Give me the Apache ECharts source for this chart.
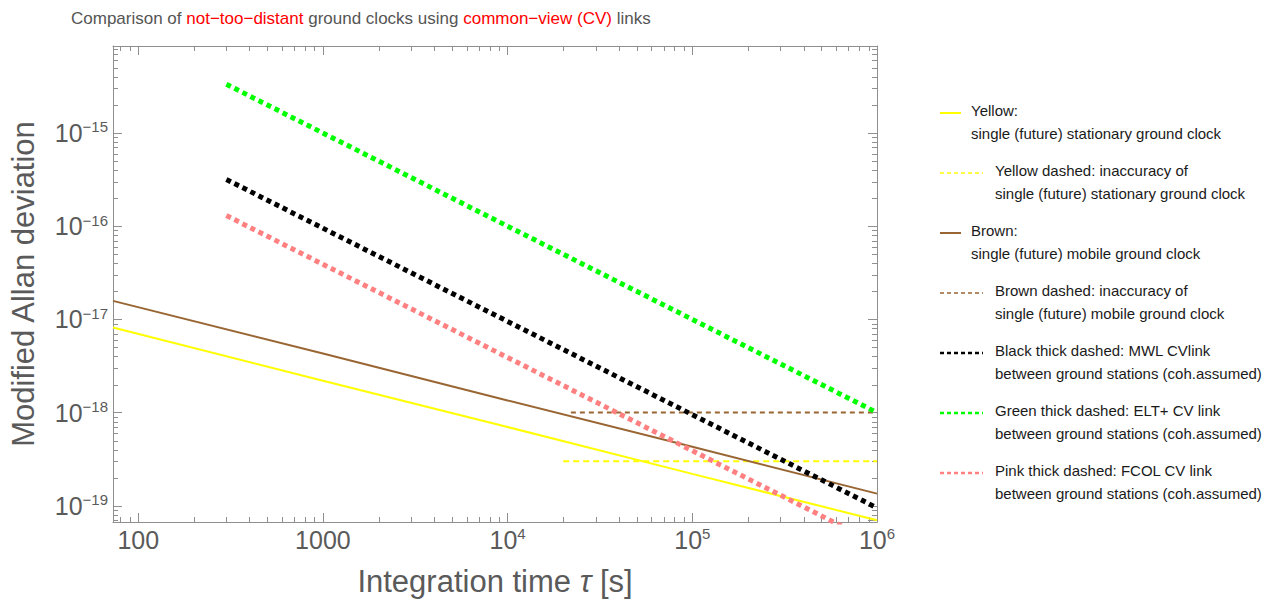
<!DOCTYPE html>
<html><head><meta charset="utf-8">
<script src="https://cdn.jsdelivr.net/npm/echarts@6/dist/echarts.min.js"></script>
<style>html,body{margin:0;padding:0;background:#fff}#c{width:1271px;height:603px}</style>
</head><body><div id="c"></div>
<script>
// ---- data (tau in s, modified Allan deviation) ----
const yellowTau = [73, 1000, 10000, 100000, 1000000];
const yellowSigma = [8.2e-18, 2.2e-18, 7.0e-19, 2.2e-19, 7.0e-20];
const yellowDashedTau = [20000, 1000000];
const yellowDashedSigma = [3e-19, 3e-19];
const brownTau = [73, 1000, 10000, 100000, 1000000];
const brownSigma = [1.58e-17, 4.3e-18, 1.35e-18, 4.3e-19, 1.35e-19];
const brownDashedTau = [22000, 1000000];
const brownDashedSigma = [1e-18, 1e-18];
const blackTau = [300, 1000000];
const blackSigma = [3.17e-16, 9.5e-20];
const greenTau = [300, 1000000];
const greenSigma = [3.33e-15, 1e-18];
const pinkTau = [300, 1000000];
const pinkSigma = [1.3e-16, 3.9e-20];

const xRange = [73, 1000000];
const yRange = [6.7e-20, 8.57e-15];
const minorMultipliers = [2, 3, 4, 5, 6, 7, 8, 9];
const xDecades = [10, 100, 1000, 10000, 100000];
const yDecades = [1e-20, 1e-19, 1e-18, 1e-17, 1e-16, 1e-15];

const titleParts = [
  ['g', 'Comparison of '], ['r', 'not\u2212too\u2212distant'], ['g', ' ground clocks using '],
  ['r', 'common\u2212view (CV)'], ['g', ' links']
];
const xAxisTitle = 'Integration time {i|\u03c4} [s]';
const yAxisTitle = 'Modified Allan deviation';
const legendLabels = [
  ['Yellow:', 'single (future) stationary ground clock'],
  ['Yellow dashed: inaccuracy of', 'single (future) stationary ground clock'],
  ['Brown:', 'single (future) mobile ground clock'],
  ['Brown dashed: inaccuracy of', 'single (future) mobile ground clock'],
  ['Black thick dashed: MWL CVlink', 'between ground stations (coh.assumed)'],
  ['Green thick dashed: ELT+ CV link', 'between ground stations (coh.assumed)'],
  ['Pink thick dashed: FCOL CV link', 'between ground stations (coh.assumed)']
];

// ---- styles ----
const FRAME = '#8f8f8f';
const LABEL = '#5a5a5a';
const YELLOW = '#ffff00', BROWN = '#996633', BLACK = '#000000', GREEN = '#00ff00', PINK = '#ff8080';
const FONT = '"Liberation Sans", Arial, sans-serif';

const zip = (a, b) => a.map((v, i) => [v, b[i]]);
const minorVals = (decs, r) => {
  const out = [];
  decs.forEach(d => minorMultipliers.forEach(m => { const v = d * m; if (v > r[0] && v < r[1]) out.push(v); }));
  return out;
};
const xMinor = minorVals(xDecades, xRange);
const yMinor = minorVals(yDecades, yRange);

const chart = echarts.init(document.getElementById('c'), null, { renderer: 'svg' });

const supRich = {
  b: { fontSize: 25, lineHeight: 27, color: LABEL, fontFamily: FONT },
  s: { fontSize: 15, lineHeight: 14, verticalAlign: 'top', color: LABEL, fontFamily: FONT }
};
const xFmt = v => {
  const e = Math.round(Math.log10(v));
  if (e <= 3) return '{b|' + Math.pow(10, e) + '}';
  return '{b|10}{s|' + e + '}';
};
const yFmt = v => {
  const e = Math.round(Math.log10(v));
  return '{b|10}{s|' + (e < 0 ? '\u2212' + (-e) : e) + '}';
};

const axisCommon = {
  type: 'log', logBase: 10,
  axisLine: { show: true, lineStyle: { color: FRAME, width: 1 } },
  axisTick: { show: true, inside: true, length: 9, lineStyle: { color: FRAME } },
  splitLine: { show: false },
  minorTick: { show: false }
};

const legendGraphics = [];
const legendStyles = [
  { color: YELLOW, dash: null, w: 2, solid: true },
  { color: YELLOW, dash: [4, 3], w: 1.5, solid: false },
  { color: BROWN, dash: null, w: 2, solid: true },
  { color: BROWN, dash: [4, 3], w: 1.5, solid: false },
  { color: BLACK, dash: [4, 3], w: 2.5, solid: false },
  { color: GREEN, dash: [4, 3], w: 2.5, solid: false },
  { color: PINK, dash: [4, 3], w: 2.5, solid: false }
];
legendLabels.forEach((lab, i) => {
  const st = legendStyles[i];
  const y0 = 113 + i * 60;
  const lineEnd = st.solid ? 961 : 983;
  const textX = st.solid ? 971 : 995;
  legendGraphics.push({
    type: 'line', shape: { x1: 940, y1: y0, x2: lineEnd, y2: y0 },
    style: { stroke: st.color, lineWidth: st.w, lineDash: st.dash || null }
  });
  legendGraphics.push({
    type: 'text', left: textX, top: y0 - 10,
    style: { text: lab[0], font: '15px ' + FONT, fill: '#1a1a1a' }
  });
  legendGraphics.push({
    type: 'text', left: textX, top: y0 + 13,
    style: { text: lab[1], font: '15px ' + FONT, fill: '#1a1a1a' }
  });
});

const lineSeries = (name, data, color, width, dash) => ({
  name, type: 'line', data, showSymbol: false, symbol: 'none', clip: true, silent: true,
  xAxisIndex: 0, yAxisIndex: 0,
  lineStyle: { color, width, type: dash ? dash : 'solid', cap: 'butt' }
});

chart.setOption({
  backgroundColor: '#ffffff',
  animation: false,
  title: {
    text: titleParts.map(p => '{' + p[0] + '|' + p[1] + '}').join(''),
    left: 66, top: 5,
    textStyle: {
      fontWeight: 'normal',
      rich: {
        g: { fontSize: 17, fontWeight: 'normal', color: '#555555', fontFamily: FONT },
        r: { fontSize: 17, fontWeight: 'normal', color: '#ff0000', fontFamily: FONT }
      }
    }
  },
  grid: { left: 113, right: 394, top: 46, bottom: 81, containLabel: false },
  xAxis: [
    Object.assign({}, axisCommon, {
      position: 'bottom', min: xRange[0], max: xRange[1],
      name: xAxisTitle, nameLocation: 'middle', nameGap: 44,
      nameTextStyle: { fontSize: 31, color: LABEL, fontFamily: FONT,
        rich: { i: { fontSize: 31, fontStyle: 'italic', color: LABEL, fontFamily: FONT } } },
      axisLabel: { show: true, formatter: xFmt, margin: 4, rich: supRich, showMinLabel: false, showMaxLabel: true }
    }),
    Object.assign({}, axisCommon, {
      position: 'top', min: xRange[0], max: xRange[1], axisLabel: { show: false }
    })
  ],
  yAxis: [
    Object.assign({}, axisCommon, {
      position: 'left', min: yRange[0], max: yRange[1],
      name: yAxisTitle, nameLocation: 'middle', nameGap: 74, nameRotate: 90,
      nameTextStyle: { fontSize: 31, color: LABEL, fontFamily: FONT },
      axisLabel: { show: true, formatter: yFmt, margin: 5, rich: supRich, showMinLabel: false, showMaxLabel: false }
    }),
    Object.assign({}, axisCommon, {
      position: 'right', min: yRange[0], max: yRange[1], axisLabel: { show: false }
    })
  ],
  graphic: legendGraphics,
  series: [
    {
      type: 'custom', silent: true, xAxisIndex: 0, yAxisIndex: 0, z: 1,
      data: xMinor.map(v => [v, yRange[0]]),
      renderItem: (params, api) => {
        const cs = params.coordSys;
        const x = Math.round(api.coord([api.value(0), yRange[0]])[0]) + 0.5;
        const b = cs.y + cs.height, t = cs.y;
        return { type: 'group', children: [
          { type: 'line', shape: { x1: x, y1: b, x2: x, y2: b - 5 }, style: { stroke: FRAME, lineWidth: 1 } },
          { type: 'line', shape: { x1: x, y1: t, x2: x, y2: t + 5 }, style: { stroke: FRAME, lineWidth: 1 } }
        ] };
      }
    },
    {
      type: 'custom', silent: true, xAxisIndex: 0, yAxisIndex: 0, z: 1,
      data: yMinor.map(v => [xRange[0], v]),
      renderItem: (params, api) => {
        const cs = params.coordSys;
        const y = Math.round(api.coord([xRange[0], api.value(1)])[1]) + 0.5;
        const l = cs.x, r = cs.x + cs.width;
        return { type: 'group', children: [
          { type: 'line', shape: { x1: l, y1: y, x2: l + 5, y2: y }, style: { stroke: FRAME, lineWidth: 1 } },
          { type: 'line', shape: { x1: r, y1: y, x2: r - 5, y2: y }, style: { stroke: FRAME, lineWidth: 1 } }
        ] };
      }
    },
    lineSeries('Yellow', zip(yellowTau, yellowSigma), YELLOW, 2, null),
    lineSeries('Yellow dashed', zip(yellowDashedTau, yellowDashedSigma), YELLOW, 2, [6, 4]),
    lineSeries('Brown', zip(brownTau, brownSigma), BROWN, 2, null),
    lineSeries('Brown dashed', zip(brownDashedTau, brownDashedSigma), BROWN, 2, [5, 4]),
    lineSeries('Black thick dashed', zip(blackTau, blackSigma), BLACK, 5, [5, 4]),
    lineSeries('Green thick dashed', zip(greenTau, greenSigma), GREEN, 5, [5, 4]),
    lineSeries('Pink thick dashed', zip(pinkTau, pinkSigma), PINK, 5, [5, 4])
  ]
});
</script>
</body></html>
